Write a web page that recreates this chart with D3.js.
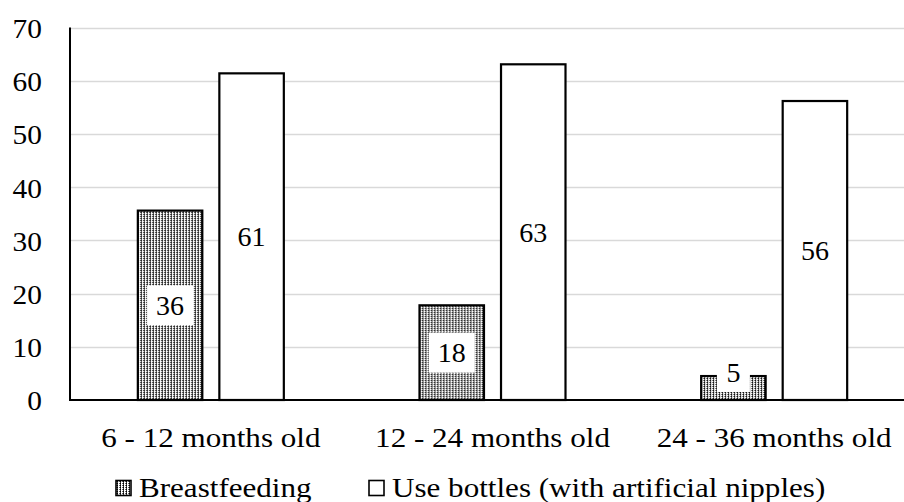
<!DOCTYPE html>
<html>
<head>
<meta charset="utf-8">
<script src="https://cdn.jsdelivr.net/npm/d3@7"></script>
<style>
  html, body { margin: 0; padding: 0; background: #fff; }
  svg { display: block; }
</style>
</head>
<body>
<svg id="chart" width="904" height="502"></svg>
<script>
const categories = ["6 - 12 months old", "12 - 24 months old", "24 - 36 months old"];
const seriesNames = ["Breastfeeding", "Use bottles (with artificial nipples)"];
const breastfeeding = [35.6, 17.8, 4.5];
const bottles = [61.4, 63.1, 56.2];
const yTicks = [0, 10, 20, 30, 40, 50, 60, 70];

(function () {
const svg = d3.select("#chart");
const W = 904;
const mLeft = 70, mRight = 915, mTop = 27.6, mBottom = 400;
const FS = 28;
const FONT = "'Liberation Serif'";
const SX = 1.11;

const defs = svg.append("defs");
const pat = defs.append("pattern").attr("id", "dots")
  .attr("patternUnits", "userSpaceOnUse").attr("width", 3).attr("height", 2);
pat.append("rect").attr("width", 3).attr("height", 2).attr("fill", "#fff");
pat.append("rect").attr("x", 0).attr("y", 0).attr("width", 1).attr("height", 1).attr("fill", "#000");
pat.append("rect").attr("x", 0).attr("y", 1).attr("width", 1).attr("height", 1).attr("fill", "#444");
pat.append("rect").attr("x", 2).attr("y", 0).attr("width", 1).attr("height", 1).attr("fill", "#666");

const y = d3.scaleLinear().domain([0, 70]).range([mBottom, mTop]);
const x0 = d3.scaleBand().domain(categories).range([mLeft, mRight]).padding(0);
const pairW = 146;
const x1 = d3.scaleBand().domain(seriesNames).range([0, pairW]).paddingInner(0.209).paddingOuter(0);

// gridlines
svg.append("g").selectAll("line").data(yTicks.filter(d => d > 0)).join("line")
  .attr("x1", mLeft).attr("x2", W)
  .attr("y1", d => Math.round(y(d)) + 0.5).attr("y2", d => Math.round(y(d)) + 0.5)
  .attr("stroke", "#d9d9d9").attr("stroke-width", 1.5);

// y axis labels
const yAxis = d3.axisLeft(y).tickValues(yTicks).tickSize(0).tickPadding(0);
const gy = svg.append("g").attr("transform", `translate(${mLeft - 28},0)`).call(yAxis);
gy.select(".domain").remove();
gy.attr("font-family", null).attr("font-size", null);
gy.selectAll("text").style("font-family", FONT).style("font-size", FS + "px").style("fill", "#000")
  .attr("text-anchor", "end").attr("dy", "0.35em").attr("transform", "scale(1.05,1)");

const rows = categories.map((c, i) => ({ c, vals: [breastfeeding[i], bottles[i]] }));

const groups = svg.append("g").selectAll("g").data(rows).join("g")
  .attr("transform", d => `translate(${x0(d.c) + (x0.bandwidth() - pairW) / 2},0)`);

groups.selectAll("rect").data(d => d.vals.map((v, j) => ({ s: seriesNames[j], v, j }))).join("rect")
  .attr("x", d => x1(d.s))
  .attr("y", d => y(d.v))
  .attr("width", x1.bandwidth())
  .attr("height", d => y(0) - y(d.v))
  .attr("fill", d => d.j === 0 ? "url(#dots)" : "#fff")
  .attr("stroke", "#000").attr("stroke-width", 2.2);

// labels
const fmt = d3.format(".0f");
groups.each(function(d) {
  const g = d3.select(this);
  d.vals.forEach((v, j) => {
    const s = seriesNames[j];
    const txt = fmt(v);
    const bw = txt.length > 1 ? 46 : 33, bh = 40;
    const cx = x1(s) + x1.bandwidth() / 2;
    let cy = (y(v) + y(0)) / 2;
    cy = Math.min(cy, y(0) - bh / 2 - 8);
    g.append("rect").attr("x", cx - bw / 2).attr("y", cy - bh / 2)
      .attr("width", bw).attr("height", bh).attr("fill", "#fff");
    g.append("text").attr("x", cx).attr("y", cy).attr("dy", "0.35em")
      .attr("text-anchor", "middle").style("font-family", FONT).style("font-size", FS + "px")
      .style("fill", "#000").text(txt);
  });
});

// axes lines
svg.append("line").attr("x1", mLeft).attr("x2", mLeft).attr("y1", mTop).attr("y2", mBottom + 1)
  .attr("stroke", "#000").attr("stroke-width", 2);
svg.append("line").attr("x1", mLeft).attr("x2", W).attr("y1", mBottom).attr("y2", mBottom)
  .attr("stroke", "#000").attr("stroke-width", 2);

// x axis labels
const xAxis = d3.axisBottom(x0).tickSize(0).tickPadding(0);
const gx = svg.append("g").attr("transform", `translate(0,${mBottom + 37})`).call(xAxis);
gx.select(".domain").remove();
gx.attr("font-family", null).attr("font-size", null);
gx.selectAll("text").style("font-family", FONT).style("font-size", FS + "px").style("fill", "#000")
  .attr("dy", "0.35em").attr("transform", `scale(${SX},1)`);

// legend
const legend = svg.append("g").attr("transform", "translate(0,487)");
const legItems = [
  { name: seriesNames[0], x: 116, fill: "url(#dots)" },
  { name: seriesNames[1], x: 369, fill: "#fff" }
];
legItems.forEach(it => {
  legend.append("rect").attr("x", it.x).attr("y", -6.5).attr("width", 15).attr("height", 15)
    .attr("fill", it.fill).attr("stroke", "#000").attr("stroke-width", 1.6);
  legend.append("text").attr("transform", `translate(${it.x + 23},0) scale(${SX},1)`)
    .attr("dy", "0.35em")
    .style("font-family", FONT).style("font-size", FS + "px").style("fill", "#000").text(it.name);
});
})();
</script>
</body>
</html>
